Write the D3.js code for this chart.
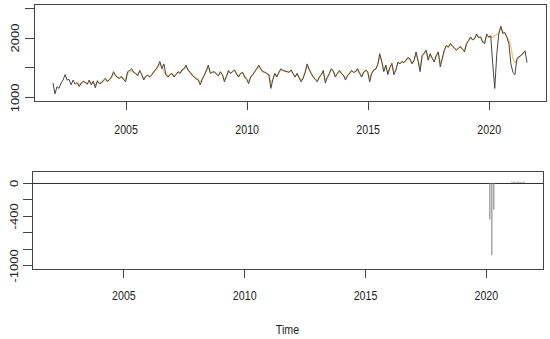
<!DOCTYPE html>
<html>
<head>
<meta charset="utf-8">
<script src="https://cdnjs.cloudflare.com/ajax/libs/d3/7.8.5/d3.min.js"></script>
<style>
  html, body { margin: 0; padding: 0; background: #fff; }
  svg text { font-family: "Liberation Sans", Arial, sans-serif; font-size: 13px; fill: #222; }
</style>
</head>
<body>
<div id="chart"></div>
<script>
// monthly series, first value = Jan 2002
var obsStart = 2002;
var observed = [
  1240,1060,1180,1150,1240,1290,1380,1290,1300,1210,1290,1220,
  1250,1180,1240,1270,1250,1220,1290,1210,1270,1160,1280,1230,
  1240,1290,1320,1260,1300,1340,1430,1370,1330,1320,1350,1300,
  1260,1430,1450,1480,1420,1400,1360,1450,1380,1290,1350,1370,
  1340,1380,1430,1470,1520,1600,1480,1560,1370,1340,1380,1400,
  1340,1380,1430,1400,1460,1480,1540,1450,1420,1370,1340,1310,
  1290,1210,1300,1370,1450,1540,1400,1420,1430,1390,1360,1430,
  1380,1260,1350,1450,1400,1430,1460,1390,1340,1400,1420,1340,
  1300,1230,1340,1380,1430,1480,1540,1480,1430,1420,1400,1380,
  1150,1300,1400,1340,1420,1480,1450,1440,1430,1420,1460,1400,
  1340,1400,1330,1260,1320,1420,1560,1470,1400,1340,1300,1260,
  1340,1380,1450,1240,1330,1400,1480,1440,1340,1400,1450,1400,
  1370,1290,1360,1400,1450,1420,1430,1480,1400,1340,1420,1460,
  1430,1260,1400,1460,1470,1550,1730,1600,1430,1540,1380,1500,
  1570,1380,1450,1590,1560,1600,1580,1620,1670,1640,1560,1620,
  1760,1600,1430,1700,1740,1790,1620,1730,1650,1590,1700,1760,
  1510,1650,1790,1870,1840,1900,1860,1820,1790,1820,1850,1800,
  1760,1900,1950,2010,1960,1980,2060,2000,2010,1920,1900,2060,
  2010,2030,1560,1150,1720,2060,2190,2070,2080,2000,1900,1560,
  1420,1380,1650,1680,1700,1740,1780,1580
];

// adjusted series, first value = Jan 2003
var fitStart = 2003;
var fitted = [
  1230,1210,1240,1250,1250,1230,1270,1240,1260,1210,1250,1240,
  1250,1270,1300,1280,1300,1330,1390,1370,1340,1320,1340,1310,
  1300,1400,1430,1450,1420,1400,1380,1430,1390,1320,1350,1370,
  1350,1380,1420,1460,1500,1560,1520,1420,1400,1360,1380,1400,
  1360,1390,1420,1410,1450,1470,1510,1460,1420,1380,1350,1330,
  1300,1260,1310,1370,1430,1500,1420,1420,1420,1390,1370,1410,
  1370,1300,1350,1430,1410,1430,1450,1400,1360,1390,1410,1360,
  1320,1270,1340,1380,1420,1470,1510,1470,1430,1420,1400,1380,
  1250,1310,1390,1360,1410,1460,1450,1440,1430,1420,1440,1400,
  1350,1390,1340,1290,1330,1410,1520,1460,1400,1350,1310,1280,
  1330,1380,1420,1290,1340,1400,1460,1430,1360,1400,1430,1400,
  1370,1320,1370,1400,1440,1420,1430,1460,1410,1360,1410,1440,
  1420,1330,1410,1460,1480,1550,1680,1590,1460,1520,1420,1500,
  1540,1420,1470,1580,1570,1600,1590,1620,1650,1630,1580,1620,
  1720,1620,1500,1680,1730,1770,1650,1720,1660,1610,1690,1740,
  1570,1660,1770,1850,1840,1880,1860,1820,1800,1820,1840,1810,
  1790,1880,1940,1990,1970,1980,2040,2000,2000,1940,1920,2030,
  2000,2010,2000,2030,2050,2080,2150,2100,2080,2020,1960,1850,
  1650,1580,1620,1670,1700,1730,1760
];

// outlier effects (lower panel)
var effMonths = ["2020-03","2020-04","2020-05","2021-02","2021-03","2021-04","2021-05","2021-06","2021-07","2021-08"];
var effValues = [-445, -877, -324, 12, 16, 10, 18, 14, 11, 15];

var xTicks = [2005, 2010, 2015, 2020];
var topYLim = [1000, 2500];
var topYTicks = [1000, 1500, 2000, 2500];
var topYLabels = ["1000", "", "2000", ""];
var botYLim = [-1000, 100];
var botYTicks = [-1000, -800, -600, -400, -200, 0];
var botYLabels = ["-1000", "", "", "-400", "", "0"];

var width = 550, height = 339;
var squeeze = 0.82;

function monthly(vals, start) {
  return vals.map(function (v, i) { return { t: start + i / 12, v: v }; });
}
function decYear(s) {
  var p = s.split("-");
  return +p[0] + (+p[1] - 1) / 12;
}
function pad(lim) {
  var d = (lim[1] - lim[0]) * 0.04;
  return [lim[0] - d, lim[1] + d];
}

var obs = monthly(observed, obsStart);
var fit = monthly(fitted, fitStart);
var eff = effMonths.map(function (m, i) { return { t: decYear(m), v: effValues[i] }; });

var xLim = pad([obs[0].t, obs[obs.length - 1].t]);

var svg = d3.select("#chart").append("svg")
  .attr("width", width).attr("height", height);

function panel(box, yLim, yTicks, yLabels, labPad, yLabX) {
  var x = d3.scaleLinear().domain(xLim).range([box.x0, box.x1]);
  var y = d3.scaleLinear().domain(pad(yLim)).range([box.y1, box.y0]);

  var gx = svg.append("g").attr("transform", "translate(0," + box.y1 + ")")
    .call(d3.axisBottom(x).tickValues(xTicks).tickFormat(d3.format("d"))
      .tickSize(9).tickSizeOuter(0).tickPadding(labPad));
  gx.select(".domain").remove();
  gx.selectAll("line").attr("stroke", "#444").attr("shape-rendering", "crispEdges");
  gx.selectAll("text").attr("transform", "scale(" + squeeze + ",1)")
    .attr("fill", "#222").attr("font-size", 13).attr("font-family", null);

  var gy = svg.append("g").attr("transform", "translate(" + box.x0 + ",0)")
    .call(d3.axisLeft(y).tickValues(yTicks)
      .tickFormat(function (d, i) { return yLabels[i]; })
      .tickSize(9).tickSizeOuter(0));
  gy.select(".domain").remove();
  gy.selectAll("line").attr("stroke", "#444").attr("shape-rendering", "crispEdges");
  gy.selectAll("text")
    .attr("x", null).attr("dy", "0.36em")
    .attr("text-anchor", "middle")
    .attr("fill", "#222").attr("font-size", 13).attr("font-family", null)
    .attr("transform", "translate(" + yLabX + ",0) scale(" + squeeze + ",1) rotate(-90)");

  svg.append("rect")
    .attr("x", box.x0 + 0.5).attr("y", box.y0 + 0.5)
    .attr("width", box.x1 - box.x0).attr("height", box.y1 - box.y0)
    .attr("fill", "none").attr("stroke", "#444").attr("stroke-width", 1)
    .attr("shape-rendering", "crispEdges");

  return { x: x, y: y };
}

// top panel: observed and adjusted series
var p1 = panel({ x0: 34, x1: 546, y0: 4, y1: 101 }, topYLim, topYTicks, topYLabels, 15, -19);
var line1 = d3.line().x(function (d) { return p1.x(d.t); }).y(function (d) { return p1.y(d.v); });

svg.append("path").datum(fit)
  .attr("d", line1).attr("fill", "none")
  .attr("stroke", "#f0c272").attr("stroke-width", 1.2);
svg.append("path").datum(obs)
  .attr("d", line1).attr("fill", "none")
  .attr("stroke", "#454545").attr("stroke-width", 1);

// bottom panel: effects as spikes
var p2 = panel({ x0: 32, x1: 543, y0: 171, y1: 269 }, botYLim, botYTicks, botYLabels, 12.5, -18);

svg.append("line")
  .attr("x1", 32).attr("x2", 543)
  .attr("y1", Math.round(p2.y(0)) + 0.5).attr("y2", Math.round(p2.y(0)) + 0.5)
  .attr("stroke", "#333").attr("stroke-width", 1);

svg.append("g").selectAll("line").data(eff).enter().append("line")
  .attr("x1", function (d) { return p2.x(d.t); })
  .attr("x2", function (d) { return p2.x(d.t); })
  .attr("y1", p2.y(0))
  .attr("y2", function (d) { return p2.y(d.v); })
  .attr("stroke", "#777").attr("stroke-width", 1);

svg.append("text")
  .attr("text-anchor", "middle")
  .attr("transform", "translate(287.5,334) scale(" + squeeze + ",1)")
  .text("Time");
</script>
</body>
</html>
